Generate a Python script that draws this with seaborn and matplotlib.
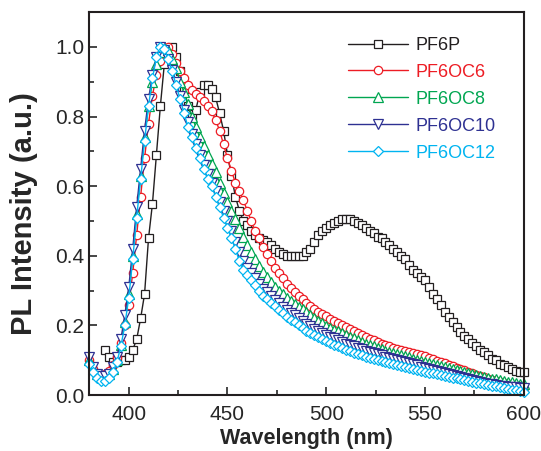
import numpy as np
import pandas as pd
import matplotlib
matplotlib.use("Agg")
import matplotlib.pyplot as plt
import seaborn as sns

sns.set_style("ticks")
plt.rcParams['font.family'] = ['Liberation Sans', 'DejaVu Sans']

##wavelength grids (nm)
wl = list(range(380, 601, 2))
wl_p = list(range(388, 601, 2))

##PL intensities (normalised)
pf6p = [0.13, 0.11, 0.095, 0.095, 0.10, 0.10, 0.11, 0.13, 0.16, 0.22, 0.29, 0.45, 0.55, 0.69, 0.83, 0.95, 0.99,
        1.0, 0.97, 0.93, 0.88, 0.83, 0.80, 0.82, 0.87, 0.89, 0.89, 0.88, 0.855, 0.81, 0.76, 0.69, 0.63, 0.57,
        0.53, 0.50, 0.49, 0.47, 0.46, 0.45, 0.445, 0.44, 0.43, 0.42, 0.41, 0.405, 0.40, 0.40, 0.40, 0.40, 0.40,
        0.41, 0.42, 0.44, 0.46, 0.47, 0.48, 0.49, 0.495, 0.50, 0.505, 0.505, 0.505, 0.50, 0.495, 0.49, 0.48,
        0.47, 0.465, 0.455, 0.45, 0.44, 0.43, 0.42, 0.41, 0.40, 0.39, 0.375, 0.36, 0.35, 0.34, 0.33, 0.31,
        0.29, 0.275, 0.26, 0.24, 0.225, 0.21, 0.195, 0.18, 0.17, 0.16, 0.15, 0.14, 0.13, 0.125, 0.115, 0.105,
        0.10, 0.09, 0.086, 0.08, 0.075, 0.07, 0.065, 0.065]

pf6oc6 = [0.10, 0.075, 0.06, 0.055, 0.06, 0.07, 0.085, 0.11, 0.15, 0.20, 0.26, 0.35, 0.46, 0.57, 0.68, 0.78,
          0.86, 0.92, 0.96, 0.99, 1.0, 0.98, 0.955, 0.93, 0.91, 0.89, 0.875, 0.865, 0.855, 0.845, 0.83, 0.815,
          0.79, 0.76, 0.72, 0.68, 0.645, 0.61, 0.585, 0.56, 0.53, 0.50, 0.47, 0.45, 0.425, 0.405, 0.385, 0.365,
          0.35, 0.335, 0.32, 0.308, 0.296, 0.285, 0.275, 0.265, 0.256, 0.248, 0.24, 0.233, 0.226, 0.219, 0.213,
          0.207, 0.201, 0.195, 0.189, 0.183, 0.177, 0.172, 0.167, 0.162, 0.157, 0.152, 0.148, 0.144, 0.140,
          0.136, 0.132, 0.129, 0.126, 0.123, 0.120, 0.117, 0.114, 0.111, 0.107, 0.103, 0.099, 0.095, 0.091,
          0.087, 0.083, 0.079, 0.075, 0.071, 0.067, 0.063, 0.059, 0.055, 0.051, 0.047, 0.043, 0.040, 0.037,
          0.034, 0.031, 0.028, 0.025, 0.022, 0.020]

pf6oc8 = [0.10, 0.075, 0.06, 0.055, 0.055, 0.06, 0.075, 0.10, 0.145, 0.21, 0.29, 0.40, 0.52, 0.63, 0.74, 0.83,
          0.90, 0.95, 0.985, 1.0, 0.99, 0.965, 0.94, 0.90, 0.87, 0.835, 0.80, 0.77, 0.74, 0.715, 0.69, 0.665,
          0.64, 0.61, 0.58, 0.555, 0.53, 0.505, 0.48, 0.455, 0.43, 0.41, 0.39, 0.37, 0.355, 0.34, 0.325, 0.31,
          0.30, 0.29, 0.28, 0.27, 0.262, 0.254, 0.246, 0.238, 0.230, 0.222, 0.214, 0.206, 0.198, 0.193, 0.188,
          0.183, 0.178, 0.173, 0.168, 0.163, 0.158, 0.153, 0.148, 0.144, 0.140, 0.136, 0.132, 0.128, 0.124,
          0.120, 0.117, 0.114, 0.111, 0.108, 0.105, 0.102, 0.099, 0.096, 0.093, 0.090, 0.087, 0.084, 0.081,
          0.078, 0.075, 0.072, 0.069, 0.066, 0.063, 0.060, 0.057, 0.054, 0.051, 0.049, 0.047, 0.045, 0.043,
          0.041, 0.039, 0.037, 0.035, 0.033, 0.031]

pf6oc10 = [0.11, 0.08, 0.06, 0.055, 0.055, 0.06, 0.08, 0.11, 0.16, 0.23, 0.31, 0.42, 0.54, 0.65, 0.76, 0.85,
           0.92, 0.97, 1.0, 0.99, 0.965, 0.935, 0.90, 0.86, 0.82, 0.785, 0.75, 0.72, 0.69, 0.66, 0.635, 0.61,
           0.585, 0.555, 0.53, 0.50, 0.47, 0.44, 0.41, 0.385, 0.365, 0.35, 0.335, 0.32, 0.305, 0.295, 0.284,
           0.274, 0.264, 0.254, 0.245, 0.237, 0.229, 0.221, 0.213, 0.205, 0.198, 0.191, 0.185, 0.179, 0.173,
           0.168, 0.163, 0.158, 0.153, 0.148, 0.144, 0.140, 0.136, 0.132, 0.128, 0.124, 0.120, 0.117, 0.114,
           0.110, 0.107, 0.104, 0.100, 0.097, 0.094, 0.091, 0.088, 0.085, 0.082, 0.079, 0.076, 0.073, 0.070,
           0.067, 0.064, 0.061, 0.058, 0.055, 0.052, 0.049, 0.046, 0.043, 0.040, 0.038, 0.035, 0.033, 0.031,
           0.029, 0.027, 0.025, 0.024, 0.023, 0.022, 0.021, 0.020]

pf6oc12 = [0.09, 0.065, 0.05, 0.04, 0.04, 0.05, 0.065, 0.095, 0.14, 0.20, 0.28, 0.39, 0.51, 0.62, 0.73, 0.83,
           0.91, 0.97, 1.0, 0.995, 0.965, 0.93, 0.89, 0.85, 0.81, 0.77, 0.74, 0.71, 0.68, 0.65, 0.62, 0.60,
           0.57, 0.54, 0.51, 0.48, 0.45, 0.42, 0.385, 0.36, 0.345, 0.33, 0.315, 0.30, 0.285, 0.275, 0.265,
           0.255, 0.245, 0.235, 0.225, 0.217, 0.209, 0.201, 0.193, 0.185, 0.179, 0.173, 0.167, 0.161, 0.155,
           0.150, 0.145, 0.140, 0.135, 0.130, 0.126, 0.122, 0.118, 0.114, 0.110, 0.107, 0.104, 0.101, 0.098,
           0.095, 0.092, 0.089, 0.086, 0.083, 0.080, 0.077, 0.074, 0.071, 0.068, 0.066, 0.064, 0.062, 0.060,
           0.057, 0.055, 0.052, 0.050, 0.048, 0.045, 0.043, 0.041, 0.039, 0.036, 0.034, 0.032, 0.030, 0.027,
           0.025, 0.022, 0.020, 0.018, 0.016, 0.014, 0.012, 0.010]

names = ['PF6P', 'PF6OC6', 'PF6OC8', 'PF6OC10', 'PF6OC12']
colors = ['#231f20', '#ed1c24', '#00a651', '#2e3192', '#00b4f0']
markers = ['s', 'o', '^', 'v', 'D']
msizes = [5.5, 6, 6.5, 6.5, 5.5]

series = [(wl_p, pf6p), (wl, pf6oc6), (wl, pf6oc8), (wl, pf6oc10), (wl, pf6oc12)]

fig, ax = plt.subplots(figsize=(5.41, 4.51), dpi=100)
fig.subplots_adjust(left=0.165, right=0.968, bottom=0.124, top=0.973)

for (x, y), nm, c, m, ms in zip(series, names, colors, markers, msizes):
    sns.lineplot(x=x, y=y, ax=ax, color=c, marker=m, markersize=ms, markerfacecolor='white',
                 markeredgecolor=c, markeredgewidth=0.9, linewidth=1.0, label=nm, clip_on=False)

ax.set_xlim(380, 600)
ax.set_ylim(0, 1.1)
ax.set_xticks([400, 450, 500, 550, 600])
ax.set_xticks([425, 475, 525, 575], minor=True)
ax.set_yticks([0.0, 0.2, 0.4, 0.6, 0.8, 1.0])
ax.set_yticks([0.1, 0.3, 0.5, 0.7, 0.9], minor=True)
ax.yaxis.set_major_formatter(matplotlib.ticker.FormatStrFormatter('%.1f'))
ax.tick_params(which='both', direction='in', top=False, right=False, labelsize=15, width=1.2)
ax.tick_params(axis='x', which='major', pad=7)
ax.tick_params(which='major', length=6)
ax.tick_params(which='minor', length=3.5)
for s in ax.spines.values():
    s.set_visible(True)
    s.set_linewidth(1.5)
    s.set_color('#231f20')

ax.set_xlabel('Wavelength (nm)', fontsize=15.5, fontweight='bold', labelpad=3)
ax.set_ylabel('PL Intensity (a.u.)', fontsize=21, fontweight='bold')
ax.yaxis.set_label_coords(-0.117, 0.475)

leg = ax.legend(loc='upper right', frameon=False, fontsize=13, handlelength=3.3, handletextpad=0.4,
                labelspacing=0.55, borderaxespad=0.5, bbox_to_anchor=(0.972, 0.978))
for txt, c in zip(leg.get_texts(), colors):
    txt.set_color(c)

fig.savefig('out.png', dpi=100)
